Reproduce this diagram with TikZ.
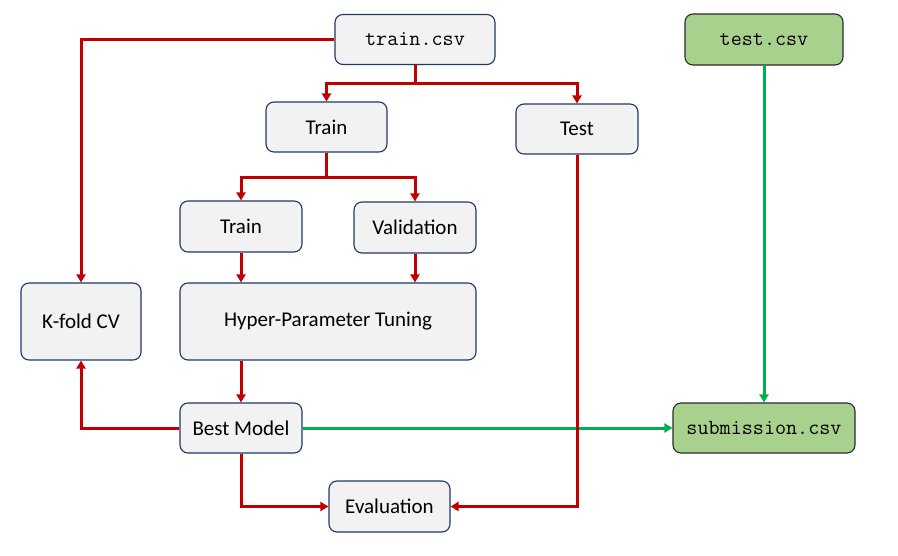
\documentclass[tikz,border=0pt]{standalone}
\usepackage{fontspec}
\setmainfont{Carlito}
\usetikzlibrary{arrows.meta,calc}
\definecolor{lred}{HTML}{C00000}
\definecolor{lgreen}{HTML}{00B050}
\definecolor{boxfill}{HTML}{F2F2F2}
\definecolor{boxline}{HTML}{1F3864}
\definecolor{gfill}{HTML}{A9D18E}
\definecolor{gline}{HTML}{2B2B2B}
\tikzset{
  box/.style={draw=boxline, fill=boxfill, line width=1.1pt, rounded corners=8pt,
    inner sep=0pt, font=\fontsize{21}{25}\selectfont},
  gbox/.style={draw=gline, fill=gfill, line width=1.1pt, rounded corners=8pt,
    inner sep=0pt, font=\ttfamily\fontsize{21.5}{25}\selectfont},
  mbox/.style={box, font=\ttfamily\fontsize{21.5}{25}\selectfont},
  rline/.style={draw=lred, line width=3pt, -{Triangle[width=9pt,length=8pt]}},
  rplain/.style={draw=lred, line width=3pt},
  gline/.style={draw=lgreen, line width=3pt, -{Triangle[width=9pt,length=8pt]}},
}
\begin{document}
\begin{tikzpicture}[x=1pt,y=-1pt]
\useasboundingbox[fill=white] (0,0) rectangle (898,555);
% nodes
\node[mbox, minimum width=160pt, minimum height=50pt] (traincsv) at (415,39.5) {train.csv};
\node[box, minimum width=121pt, minimum height=50pt] (train) at (326.5,127) {Train};
\node[box, minimum width=122pt, minimum height=50pt] (test) at (577,129) {Test};
\node[box, minimum width=122pt, minimum height=51pt] (train2) at (241,226.5) {Train};
\node[box, minimum width=122pt, minimum height=51pt] (valid) at (415,227.5) {Validation};
\node[box, minimum width=120pt, minimum height=77pt] (kfold) at (81,321.5) {K-fold CV};
\node[box, minimum width=296pt, minimum height=77pt] (hpt) at (328,321.5) {Hyper-Parameter Tuning};
\node[box, minimum width=122pt, minimum height=50pt] (best) at (241,428) {Best Model};
\node[box, minimum width=121pt, minimum height=51pt] (eval) at (389.5,506.5) {Evaluation};
\node[gbox, minimum width=158pt, minimum height=51pt] (testcsv) at (764,39.5) {test.csv};
\node[gbox, minimum width=182pt, minimum height=50pt] (sub) at (764,428) {submission.csv};
\coordinate (split1) at (415,83);
\coordinate (split2) at (326.5,177);
% green connectors
\draw[gline] (best.east) -- (sub.west);
\draw[gline] (testcsv.south) -- (sub.north);
% red connectors
\draw[rline] (traincsv.west) -| (kfold.north);
\draw[rplain] (traincsv.south) -- (split1);
\draw[rline] (split1) -| (train.north);
\draw[rline] (split1) -| (test.north);
\draw[rplain] (train.south) -- (split2);
\draw[rline] (split2) -| (train2.north);
\draw[rline] (split2) -| (valid.north);
\draw[rline] (train2.south) -- (train2.south |- hpt.north);
\draw[rline] (valid.south) -- (valid.south |- hpt.north);
\draw[rline] (best.north |- hpt.south) -- (best.north);
\draw[rline] (best.west) -| (kfold.south);
\draw[rline] (best.south) |- (eval.west);
\draw[rline] (test.south) |- (eval.east);
\end{tikzpicture}
\end{document}
